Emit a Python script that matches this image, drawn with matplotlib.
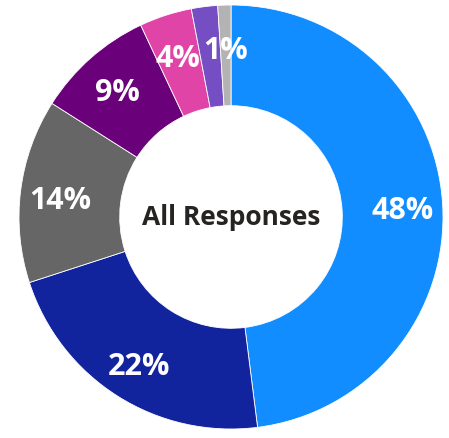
import numpy as np
import matplotlib.pyplot as plt

# valores del gráfico de anillo
categorias = ["A", "B", "C", "D", "E", "F", "G"]
valores = [48, 22, 14, 9, 4, 2, 1]
etiquetas = ["48%", "22%", "14%", "9%", "4%", "", "1%"]
colores = ["#118DFF", "#12239E", "#666666", "#6B007B", "#E044A7", "#744EC2", "#B3B3B3"]

fig = plt.figure(figsize=(4.49, 4.39), dpi=100)
# centro aprox. en (231, 218) px, radio exterior 212 px
r_px = 212
cx, cy = 231, 439 - 218
ax = fig.add_axes([(cx - r_px) / 449, (cy - r_px) / 439, 2 * r_px / 449, 2 * r_px / 439])

wedges, _ = ax.pie(valores, colors=colores, startangle=90, counterclock=False,
                   radius=1.0, wedgeprops=dict(width=0.475, edgecolor="white", linewidth=0.6))

# etiquetas en el centro del anillo
for w, txt in zip(wedges, etiquetas):
    if not txt:
        continue
    ang = np.deg2rad((w.theta1 + w.theta2) / 2)
    r = 0.81
    ax.text(r * np.cos(ang), r * np.sin(ang) - 0.02, txt, ha="center", va="center",
            color="white", fontsize=22, fontweight="bold", family="Open Sans")

ax.text(0, 0, "All Responses", ha="center", va="center", fontsize=19,
        fontweight="bold", color="#252423", family="Open Sans")

ax.set_xlim(-1, 1)
ax.set_ylim(-1, 1)
ax.set_aspect("equal")
ax.axis("off")

fig.savefig("out.png", dpi=100)
